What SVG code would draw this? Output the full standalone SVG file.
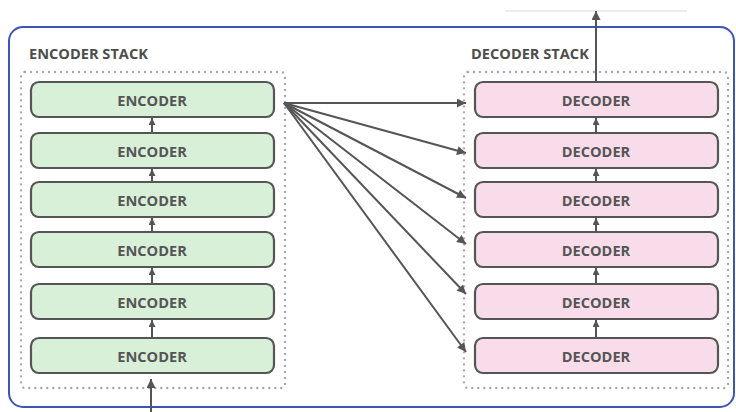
<svg xmlns="http://www.w3.org/2000/svg" width="736" height="412" viewBox="0 0 736 412">
  <style>
    .frame { fill: none; stroke: #3d55b5; stroke-width: 2; }
    .stack { fill: none; stroke: #a9a3b3; stroke-width: 2.4; stroke-dasharray: 0 6; stroke-linecap: round; }
    .title { font-family: "Open Sans", "Liberation Sans", sans-serif; font-weight: 700; font-size: 14.6px; fill: #4d4d4d; }
    .enc rect { fill: #d8f0d8; stroke: #555; stroke-width: 2.2; }
    .dec rect { fill: #f9dcea; stroke: #555; stroke-width: 2.2; }
    .label { font-family: "Open Sans", "Liberation Sans", sans-serif; font-weight: 700; font-size: 14.6px; fill: #555; text-anchor: middle; dominant-baseline: central; }
    .conn line { stroke: #555; stroke-width: 2; marker-end: url(#head); }
    .conn line.short { marker-end: url(#smallhead); }
  </style>
  <defs>
    <marker id="head" viewBox="0 0 10 10" refX="10" refY="5" markerWidth="10" markerHeight="9" markerUnits="userSpaceOnUse" orient="auto">
      <path d="M0,0 L10,5 L0,10 z" fill="#555"/>
    </marker>
    <marker id="smallhead" viewBox="0 0 10 10" refX="10" refY="5" markerWidth="7" markerHeight="7" markerUnits="userSpaceOnUse" orient="auto">
      <path d="M0,0 L10,5 L0,10 z" fill="#555"/>
    </marker>
  </defs>

  <rect width="736" height="412" fill="#ffffff"/>
  <line x1="505" y1="11" x2="687" y2="11" stroke="#e6e6ee" stroke-width="1.5"/>

  <!-- outer frame -->
  <rect class="frame" x="9" y="27" width="725" height="380" rx="14"/>

  <!-- stack outlines and titles -->
  <g id="encoder-stack">
    <text class="title" x="29" y="59">ENCODER STACK</text>
    <rect class="stack" x="21" y="72" width="264" height="316" rx="4"/>
  </g>
  <g id="decoder-stack">
    <text class="title" x="471" y="59">DECODER STACK</text>
    <rect class="stack" x="464" y="72" width="264" height="316" rx="4"/>
  </g>

  <!-- encoder layers -->
  <g id="encoder-1" class="enc"><rect x="31" y="82" width="243" height="35" rx="8"/><text class="label" x="152" y="100">ENCODER</text></g>
  <g id="encoder-2" class="enc"><rect x="31" y="133" width="243" height="35" rx="8"/><text class="label" x="152" y="151">ENCODER</text></g>
  <g id="encoder-3" class="enc"><rect x="31" y="182" width="243" height="35" rx="8"/><text class="label" x="152" y="200">ENCODER</text></g>
  <g id="encoder-4" class="enc"><rect x="31" y="232" width="243" height="35" rx="8"/><text class="label" x="152" y="250">ENCODER</text></g>
  <g id="encoder-5" class="enc"><rect x="31" y="284" width="243" height="35" rx="8"/><text class="label" x="152" y="302">ENCODER</text></g>
  <g id="encoder-6" class="enc"><rect x="31" y="338" width="243" height="35" rx="8"/><text class="label" x="152" y="356">ENCODER</text></g>

  <!-- decoder layers -->
  <g id="decoder-1" class="dec"><rect x="475" y="82" width="243" height="35" rx="8"/><text class="label" x="596" y="100">DECODER</text></g>
  <g id="decoder-2" class="dec"><rect x="475" y="133" width="243" height="35" rx="8"/><text class="label" x="596" y="151">DECODER</text></g>
  <g id="decoder-3" class="dec"><rect x="475" y="182" width="243" height="35" rx="8"/><text class="label" x="596" y="200">DECODER</text></g>
  <g id="decoder-4" class="dec"><rect x="475" y="232" width="243" height="35" rx="8"/><text class="label" x="596" y="250">DECODER</text></g>
  <g id="decoder-5" class="dec"><rect x="475" y="284" width="243" height="35" rx="8"/><text class="label" x="596" y="302">DECODER</text></g>
  <g id="decoder-6" class="dec"><rect x="475" y="338" width="243" height="35" rx="8"/><text class="label" x="596" y="356">DECODER</text></g>

  <!-- connectors -->
  <g id="connectors" class="conn">
    <!-- input into the bottom encoder -->
    <line x1="151" y1="412" x2="151" y2="379"/>
    <!-- encoder to encoder -->
    <line class="short" x1="152" y1="133" x2="152" y2="118"/>
    <line class="short" x1="152" y1="182" x2="152" y2="169"/>
    <line class="short" x1="152" y1="232" x2="152" y2="218"/>
    <line class="short" x1="152" y1="284" x2="152" y2="268"/>
    <line class="short" x1="152" y1="338" x2="152" y2="320"/>
    <!-- decoder to decoder -->
    <line class="short" x1="596" y1="133" x2="596" y2="118"/>
    <line class="short" x1="596" y1="182" x2="596" y2="169"/>
    <line class="short" x1="596" y1="232" x2="596" y2="218"/>
    <line class="short" x1="596" y1="284" x2="596" y2="268"/>
    <line class="short" x1="596" y1="338" x2="596" y2="320"/>
    <!-- output from the top decoder -->
    <line x1="596" y1="82" x2="596" y2="11"/>
    <!-- top encoder output fanned out to every decoder -->
    <line x1="284" y1="103" x2="466" y2="103"/>
    <line x1="284" y1="103" x2="466" y2="153"/>
    <line x1="284" y1="103" x2="466" y2="198"/>
    <line x1="284" y1="103" x2="466" y2="244"/>
    <line x1="284" y1="103" x2="466" y2="294"/>
    <line x1="284" y1="103" x2="466" y2="352"/>
  </g>
</svg>
